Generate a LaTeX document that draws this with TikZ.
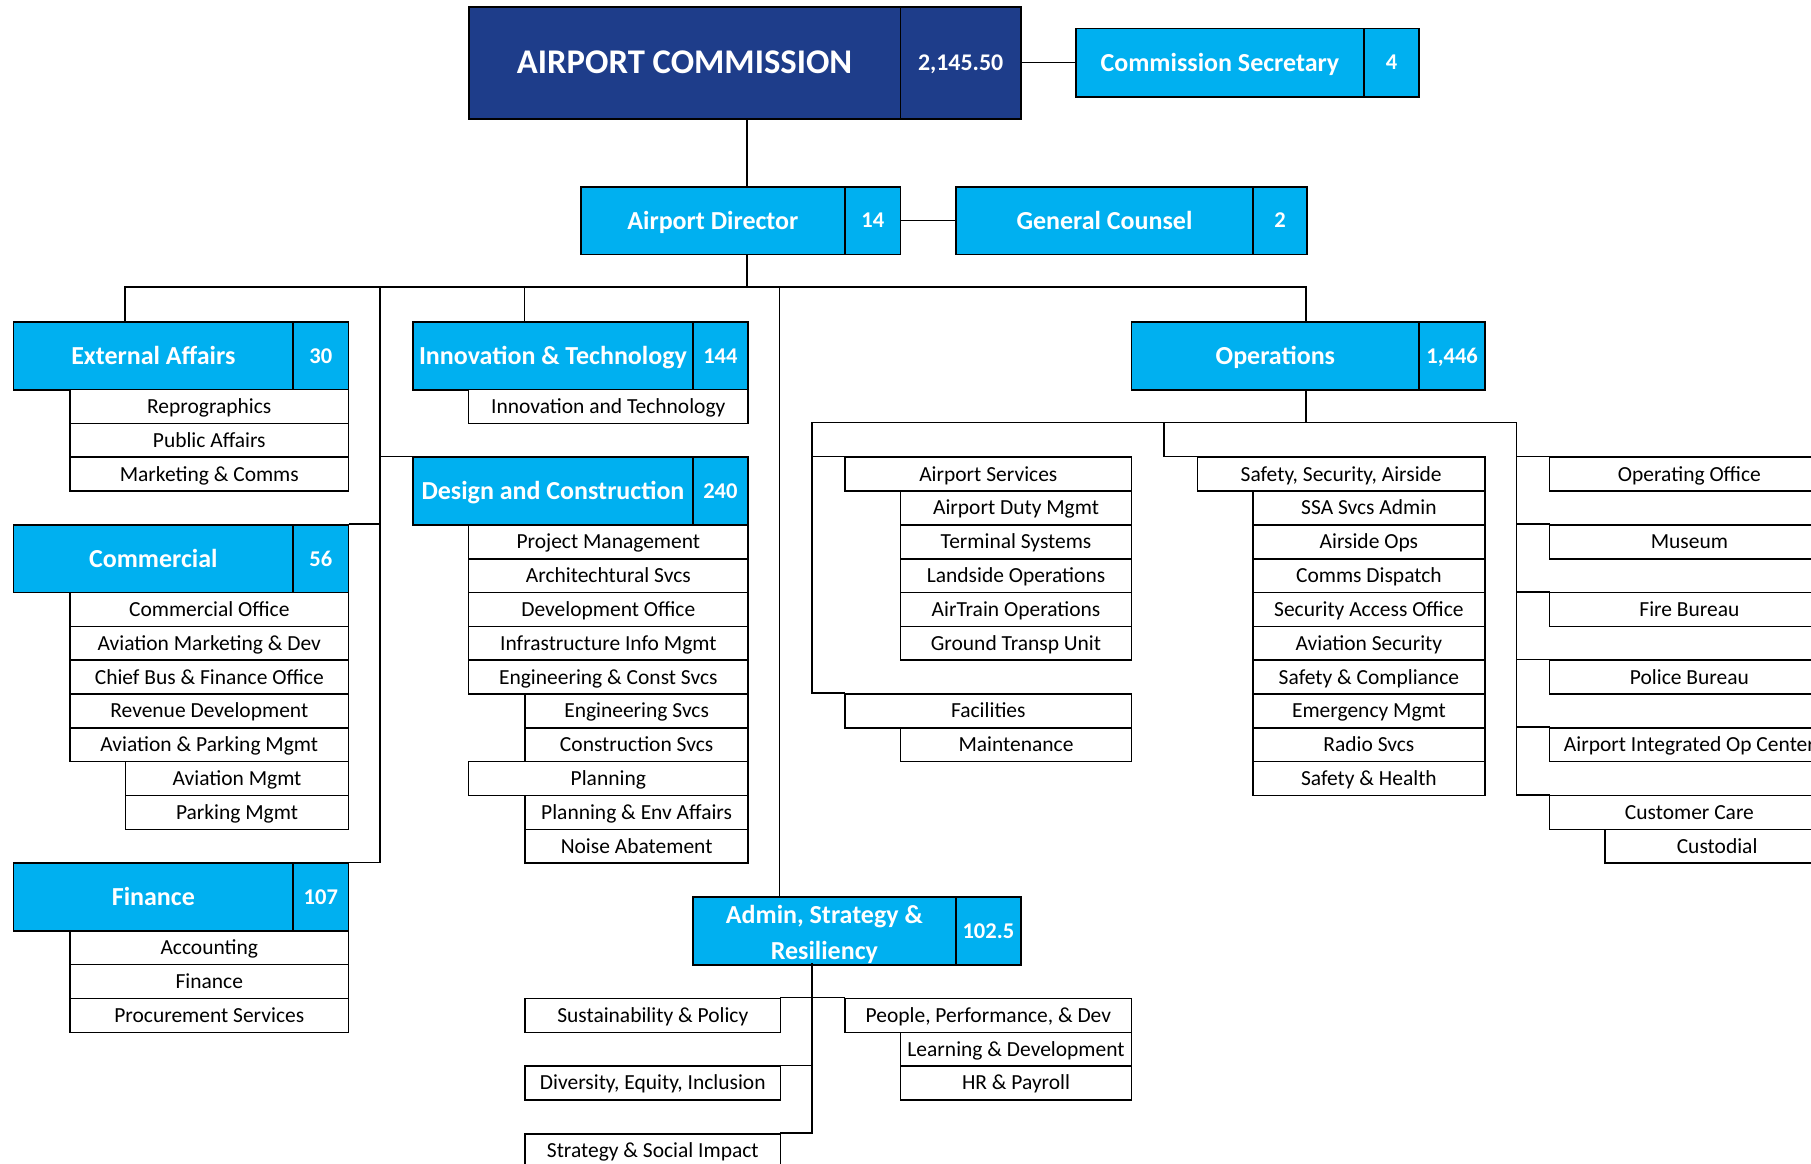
\documentclass[tikz,border=0pt]{standalone}
\usepackage{fontspec}
\setmainfont{Carlito}
\definecolor{navy}{RGB}{30,61,138}
\definecolor{lblue}{RGB}{0,176,240}
\newcommand\fsub{\fontsize{18.6}{22}\selectfont}
\newcommand\fhdr{\bfseries\fontsize{22.5}{31}\selectfont}
\newcommand\fnum{\bfseries\fontsize{19.5}{22}\selectfont}
\newcommand\fac{\bfseries\fontsize{30}{36}\selectfont}
\newcommand\fnumac{\bfseries\fontsize{20.7}{24}\selectfont}
\def\RH{29.29}
% name, x1, x2 (divider), x3 (right), ytop, height, title, number
\newcommand\mkhdr[8]{%
  \pgfmathsetmacro\wa{#3-#2}\pgfmathsetmacro\wb{#4-#3}%
  \node[hdr, minimum width=\wa pt, minimum height=#6pt] (#1) at (#2,#5) {#7};%
  \node[numbox, minimum width=\wb pt, minimum height=#6pt] (#1n) at (#3,#5) {#8};}
% name, x1, x2, row, text
\newcommand\mksub[5]{%
  \pgfmathsetmacro\wa{#3-#2}\pgfmathsetmacro\yy{278+\RH*#4}%
  \node[subbox, minimum width=\wa pt] (#1) at (#2,\yy) {#5};}
\begin{document}
\begin{tikzpicture}[x=1pt,y=-1pt,
  hdrbase/.style={draw, line width=1.5pt, fill=lblue, text=white, font=\fhdr, anchor=north west, inner sep=0pt},
  hdr/.style={hdrbase, text height=14.5pt, text depth=0pt},
  numbox/.style={hdrbase, font=\fnum, text height=12.6pt, text depth=0pt},
  subbox/.style={draw, line width=1.4pt, fill=white, font=\fsub, anchor=north west, inner sep=0pt, minimum height=29.29pt, text height=12pt, text depth=0pt},
  conn/.style={line width=1.4pt, line cap=rect}]
\useasboundingbox (0,0) rectangle (1568,1007);
\clip (0,0) rectangle (1568,1007);

% ---------- top level
\node[hdr, fill=navy, font=\fac, text height=19.3pt, minimum width=374pt, minimum height=97pt] (ac) at (405,5) {AIRPORT COMMISSION};
\node[numbox, fill=navy, font=\fnumac, text height=13.3pt, minimum width=104pt, minimum height=97pt] (acn) at (779,5) {2,145.50};
\mkhdr{cs}{931}{1180}{1228}{24}{59}{Commission Secretary}{4}
\mkhdr{ad}{502}{731}{779}{161}{58.6}{Airport Director}{14}
\mkhdr{gc}{827}{1084}{1131}{161}{58.6}{General Counsel}{2}

% ---------- divisions
\mkhdr{ea}{11}{253}{301}{278}{58.6}{External Affairs}{30}
\mkhdr{it}{357}{599}{647}{278}{58.6}{Innovation \& Technology}{144}
\mkhdr{dc}{357}{599}{647}{395.2}{58.6}{Design and Construction}{240}
\mkhdr{com}{11}{253}{301}{453.7}{58.6}{Commercial}{56}
\mkhdr{fin}{11}{253}{301}{746.6}{58.6}{Finance}{107}
\mkhdr{ops}{979}{1228}{1285}{278}{58.6}{Operations}{1,446}
\node[hdrbase, align=center, text height=49.5pt, text depth=0pt, minimum width=228pt, minimum height=58.6pt] (adm) at (599,775.9) {Admin, Strategy \&\\Resiliency};
\node[numbox, minimum width=56pt, minimum height=58.6pt] (admn) at (827,775.9) {102.5};

% ---------- External Affairs
\mksub{ea1}{60}{301}{2}{Reprographics}
\mksub{ea2}{60}{301}{3}{Public Affairs}
\mksub{ea3}{60}{301}{4}{Marketing \& Comms}
% ---------- Innovation & Technology
\mksub{it1}{405}{647}{2}{Innovation and Technology}
% ---------- Design and Construction
\mksub{dc1}{405}{647}{6}{Project Management}
\mksub{dc2}{405}{647}{7}{Architechtural Svcs}
\mksub{dc3}{405}{647}{8}{Development Office}
\mksub{dc4}{405}{647}{9}{Infrastructure Info Mgmt}
\mksub{dc5}{405}{647}{10}{Engineering \& Const Svcs}
\mksub{dc6}{454}{647}{11}{Engineering Svcs}
\mksub{dc7}{454}{647}{12}{Construction Svcs}
\mksub{dc8}{405}{647}{13}{Planning}
\mksub{dc9}{454}{647}{14}{Planning \& Env Affairs}
\mksub{dc10}{454}{647}{15}{Noise Abatement}
% ---------- Commercial
\mksub{com1}{60}{301}{8}{Commercial Office}
\mksub{com2}{60}{301}{9}{Aviation Marketing \& Dev}
\mksub{com3}{60}{301}{10}{Chief Bus \& Finance Office}
\mksub{com4}{60}{301}{11}{Revenue Development}
\mksub{com5}{60}{301}{12}{Aviation \& Parking Mgmt}
\mksub{com6}{108}{301}{13}{Aviation Mgmt}
\mksub{com7}{108}{301}{14}{Parking Mgmt}
% ---------- Finance
\mksub{fin1}{60}{301}{18}{Accounting}
\mksub{fin2}{60}{301}{19}{Finance}
\mksub{fin3}{60}{301}{20}{Procurement Services}
% ---------- Operations: left
\mksub{as}{731}{979}{4}{Airport Services}
\mksub{as1}{779}{979}{5}{Airport Duty Mgmt}
\mksub{as2}{779}{979}{6}{Terminal Systems}
\mksub{as3}{779}{979}{7}{Landside Operations}
\mksub{as4}{779}{979}{8}{AirTrain Operations}
\mksub{as5}{779}{979}{9}{Ground Transp Unit}
\mksub{fac}{731}{979}{11}{Facilities}
\mksub{fac1}{779}{979}{12}{Maintenance}
% ---------- Operations: middle
\mksub{ssa}{1036}{1285}{4}{Safety, Security, Airside}
\mksub{ssa1}{1084}{1285}{5}{SSA Svcs Admin}
\mksub{ssa2}{1084}{1285}{6}{Airside Ops}
\mksub{ssa3}{1084}{1285}{7}{Comms Dispatch}
\mksub{ssa4}{1084}{1285}{8}{Security Access Office}
\mksub{ssa5}{1084}{1285}{9}{Aviation Security}
\mksub{ssa6}{1084}{1285}{10}{Safety \& Compliance}
\mksub{ssa7}{1084}{1285}{11}{Emergency Mgmt}
\mksub{ssa8}{1084}{1285}{12}{Radio Svcs}
\mksub{ssa9}{1084}{1285}{13}{Safety \& Health}
% ---------- Operations: right
\mksub{oo}{1341}{1583}{4}{Operating Office}
\mksub{mus}{1341}{1583}{6}{Museum}
\mksub{fb}{1341}{1583}{8}{Fire Bureau}
\mksub{pb}{1341}{1583}{10}{Police Bureau}
\mksub{aioc}{1341}{1583}{12}{Airport Integrated Op Center}
\mksub{cc}{1341}{1583}{14}{Customer Care}
\mksub{cc1}{1389}{1583}{15}{Custodial}
% ---------- Admin
\mksub{sust}{454}{675}{20}{Sustainability \& Policy}
\mksub{ppd}{731}{979}{20}{People, Performance, \& Dev}
\mksub{ppd1}{779}{979}{21}{Learning \& Development}
\mksub{ppd2}{779}{979}{22}{HR \& Payroll}
\mksub{dei}{454}{675}{22}{Diversity, Equity, Inclusion}
\mksub{ssi}{454}{675}{24}{Strategy \& Social Impact}

% ---------- connector coordinates
\coordinate (trunk) at (647,248.7);
\coordinate (busL) at (108,248.7);
\coordinate (busR) at (1131,248.7);
\coordinate (itdrop) at (454,248.7);
\coordinate (lv) at (329,248.7);
\coordinate (mv) at (675,248.7);
\coordinate (obL) at (703,365.9);
\coordinate (obM) at (1008,365.9);
\coordinate (obR) at (1313,365.9);
\coordinate (av) at (703,834.5);

% ---------- connectors
\draw[conn] (acn.east) -- (cs.west);
\draw[conn] (adn.east) -- (gc.west);
\draw[conn] (ac.south -| trunk) -- (ad.north -| trunk);
\draw[conn] (ad.south -| trunk) -- (trunk);
\draw[conn] (ea.north -| busL) -- (busL) -- (busR) -- (ops.north -| busR);
\draw[conn] (itdrop) -- (it.north -| itdrop);
\draw[conn] (lv) |- (finn.north east);
\draw[conn] (comn.north east) -- (comn.north east -| lv);
\draw[conn] (dc.north west -| lv) -- (dc.north west);
\draw[conn] (mv) -- (adm.north -| mv);
% operations
\draw[conn] (ops.south -| busR) -- (obL -| busR);
\draw[conn] (obL) -- (obR);
\draw[conn] (obL) |- (fac.north west);
\draw[conn] (as.north west -| obL) -- (as.north west);
\draw[conn] (obM) |- (ssa.north west);
\draw[conn] (obR) |- (cc.north west);
\foreach \n in {oo,mus,fb,pb,aioc}{\draw[conn] (\n.north west -| obR) -- (\n.north west);}
% admin
\draw[conn] (av) |- (ssi.north east);
\draw[conn] (sust.north east) -- (ppd.north west);
\draw[conn] (dei.north east) -- (dei.north east -| av);
\end{tikzpicture}
\end{document}
